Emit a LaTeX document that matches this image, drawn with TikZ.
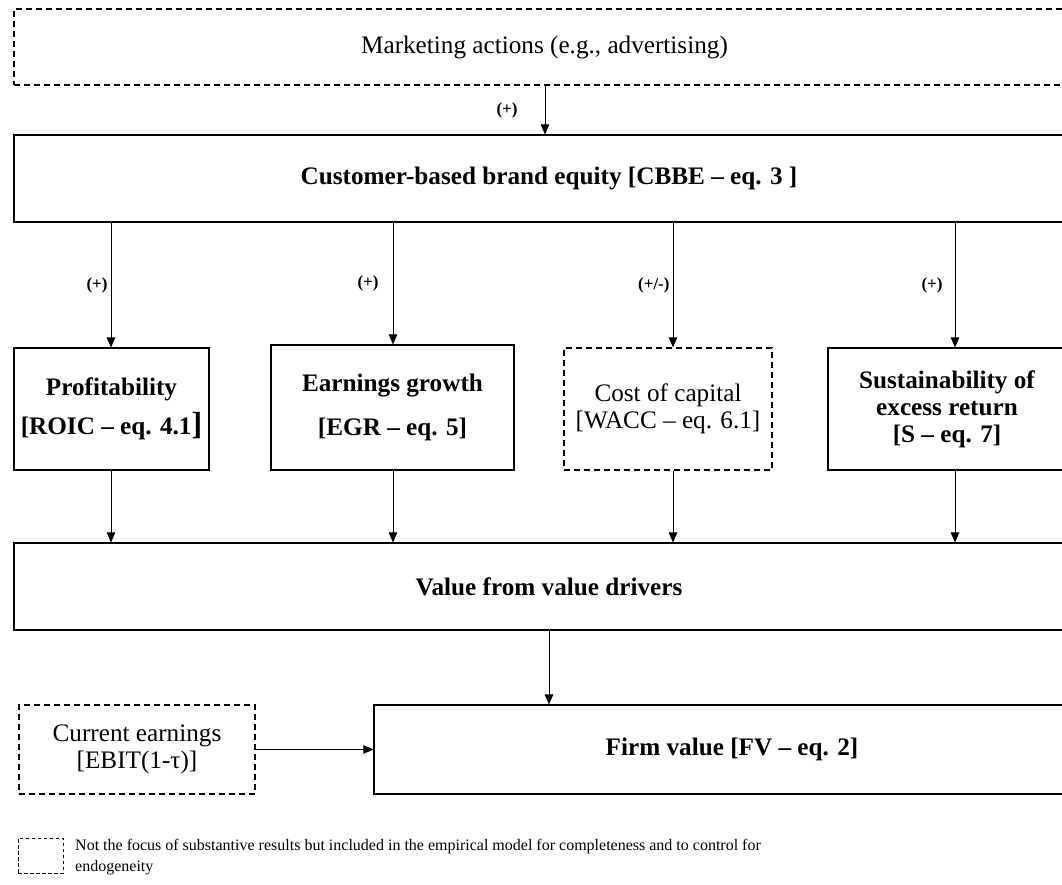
\documentclass[tikz,border=0pt]{standalone}
\usepackage{fontspec}
\setmainfont{Liberation Serif}
\usetikzlibrary{arrows.meta,positioning}

\begin{document}
\begin{tikzpicture}[x=1pt,y=-1pt,
  box/.style={draw,line width=1.1pt,inner sep=0pt,align=center,
              font=\fontsize{25.2}{27}\selectfont},
  bold/.style={font=\bfseries\fontsize{25.2}{27}\selectfont},
  dbox/.style={box,line width=1.3pt,dash pattern=on 6pt off 4pt},
  legbox/.style={draw,line width=0.8pt,dash pattern=on 3.5pt off 2.5pt,inner sep=0pt},
  arr/.style={line width=0.9pt,-{Triangle[length=10pt,width=8.5pt]}},
  lbl/.style={inner sep=0pt,font=\bfseries\fontsize{17}{17}\selectfont},
]
\clip (0,0) rectangle (1062,885);
\fill[white] (0,0) rectangle (1062,885);

% arrow columns
\coordinate (xa) at (545,0);
\coordinate (x1) at (111,0);
\coordinate (x2) at (393,0);
\coordinate (x3) at (673,0);
\coordinate (x4) at (955,0);
\coordinate (xv) at (549,0);

% boxes
\node[dbox,minimum width=1061pt,minimum height=76pt] (mkt) at (544.5,47)
  {Marketing actions (e.g., advertising)};
\node[box,bold,minimum width=1070pt,minimum height=87pt] (cbbe) at (549,178.5)
  {Customer-based brand equity [CBBE – eq. 3 ]};

\node[box,bold,minimum width=195pt,minimum height=122pt] (prof) at (111.5,409)
  {Profitability\\[10pt][ROIC – eq. 4.1{\fontsize{32}{32}\selectfont]}};
\node[box,bold,minimum width=243pt,minimum height=125pt] (egr) at (392.5,407.5)
  {Earnings growth\\[17pt][EGR – eq. 5]};
\node[dbox,minimum width=208pt,minimum height=122pt] (wacc) at (668,409)
  {Cost of capital\\[0pt][WACC – eq. 6.1]};
\node[box,bold,minimum width=238pt,minimum height=122pt] (sus) at (947,409)
  {Sustainability of\\[0pt]excess return\\[0pt][S – eq. 7]};

\node[box,bold,minimum width=1070pt,minimum height=87pt] (val) at (549,586.5)
  {Value from value drivers};

\node[dbox,minimum width=236pt,minimum height=89pt] (cur) at (137,749.5)
  {Current earnings\\[0pt][EBIT(1-τ)]};
\node[box,bold,minimum width=716pt,minimum height=89pt] (fv) at (732,749.5)
  {Firm value [FV – eq. 2]};

% legend
\node[legbox,minimum width=45pt,minimum height=35pt] (leg) at (40.5,855.5) {};
\node[anchor=west,inner sep=0pt,align=left,font=\fontsize{16}{21}\selectfont] (legtxt) at (75,857.5)
  {Not the focus of substantive results but included in the empirical model for completeness and to control for\\endogeneity};

% connectors
\draw[arr] (mkt.south -| xa) -- node[lbl,left=27pt]{(+)} (cbbe.north -| xa);

\draw[arr] (cbbe.south -| x1) -- node[lbl,left=3pt]{(+)} (prof.north -| x1);
\draw[arr] (cbbe.south -| x2) -- node[lbl,left=14pt]{(+)} (egr.north -| x2);
\draw[arr] (cbbe.south -| x3) -- node[lbl,left=3pt]{(+/-)} (wacc.north -| x3);
\draw[arr] (cbbe.south -| x4) -- node[lbl,left=12pt]{(+)} (sus.north -| x4);

\draw[arr] (prof.south -| x1) -- (val.north -| x1);
\draw[arr] (egr.south -| x2) -- (val.north -| x2);
\draw[arr] (wacc.south -| x3) -- (val.north -| x3);
\draw[arr] (sus.south -| x4) -- (val.north -| x4);

\draw[arr] (val.south -| xv) -- (fv.north -| xv);
\draw[arr] (cur.east) -- (fv.west);
\end{tikzpicture}
\end{document}
